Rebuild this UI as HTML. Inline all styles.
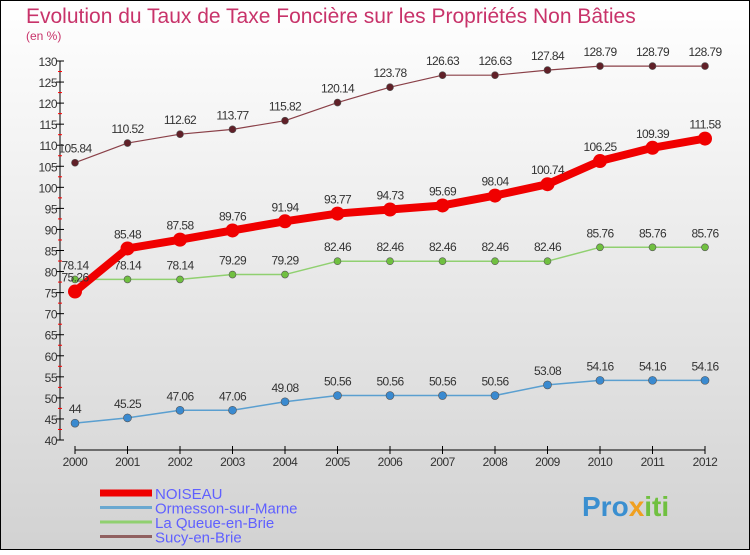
<!DOCTYPE html>
<html><head><meta charset="utf-8"><style>
body{margin:0;width:750px;height:550px;overflow:hidden;font-family:"Liberation Sans",sans-serif}
</style></head><body>
<svg width="750" height="550" xmlns="http://www.w3.org/2000/svg">
<defs><linearGradient id="bg" x1="0" y1="0" x2="0" y2="1"><stop offset="0" stop-color="#ffffff"/><stop offset="1" stop-color="#d2d2d2"/></linearGradient></defs>
<rect x="0.5" y="0.5" width="749" height="549" fill="url(#bg)" stroke="#000"/>
<text x="26" y="23" font-size="21" fill="#c8336a">Evolution du Taux de Taxe Foncière sur les Propriétés Non Bâties</text>
<text x="26" y="40" font-size="12" fill="#c8336a">(en %)</text>
<g id="axes"></g><g id="series"></g><g id="legend"></g>
<text x="582" y="516" font-size="28" font-weight="bold" fill="#3a8fd0">Pro<tspan fill="#f0a020">x</tspan><tspan fill="#70c040">iti</tspan></text>
</svg>
<script>
const years=[2000,2001,2002,2003,2004,2005,2006,2007,2008,2009,2010,2011,2012];
const yTicks=[40,45,50,55,60,65,70,75,80,85,90,95,100,105,110,115,120,125,130];
const noiseau=[75.26,85.48,87.58,89.76,91.94,93.77,94.73,95.69,98.04,100.74,106.25,109.39,111.58];
const ormesson=[44,45.25,47.06,47.06,49.08,50.56,50.56,50.56,50.56,53.08,54.16,54.16,54.16];
const queue=[78.14,78.14,78.14,79.29,79.29,82.46,82.46,82.46,82.46,82.46,85.76,85.76,85.76];
const sucy=[105.84,110.52,112.62,113.77,115.82,120.14,123.78,126.63,126.63,127.84,128.79,128.79,128.79];
const NS="http://www.w3.org/2000/svg";
const X=i=>75+i*52.5, Y=v=>440-(v-40)*(379/90);
function mk(t,a,p){const e=document.createElementNS(NS,t);for(const k in a)e.setAttribute(k,a[k]);p.appendChild(e);return e;}
const ax=document.getElementById('axes');
let l=mk('line',{x1:60,y1:Y(130),x2:60,y2:Y(40),stroke:'#000'},ax);


yTicks.forEach(v=>{mk('line',{x1:56,x2:64,y1:Y(v),y2:Y(v),stroke:'#000'},ax);
 if(v<130)mk('line',{x1:58,x2:62,y1:Y(v+2.5),y2:Y(v+2.5),stroke:'#f00'},ax);
 const t=mk('text',{x:57,y:Y(v)+5,'font-size':12,fill:'#333','text-anchor':'end','letter-spacing':'-0.5'},ax);t.textContent=v;
 
 });
l=mk('line',{x1:75,y1:450,x2:705,y2:450,stroke:'#000'},ax);


years.forEach((y,i)=>{mk('line',{x1:X(i),x2:X(i),y1:446,y2:454,stroke:'#000'},ax);
 const t=mk('text',{x:X(i),y:466,'font-size':12,fill:'#333','text-anchor':'middle','letter-spacing':'-0.5'},ax);t.textContent=y;
 
 });
const sg=document.getElementById('series');
function draw(vals,col,w,r,fill,name){
 const g=mk('g',{},sg);
 
 
 mk('polyline',{points:vals.map((v,i)=>X(i)+','+Y(v)).join(' '),fill:'none',stroke:col,'stroke-width':w,'stroke-linejoin':'round'},g);
 vals.forEach((v,i)=>{const c=mk('circle',{cx:X(i),cy:Y(v),r:r,fill:fill,stroke:'#555','stroke-width':r>5?0:0.6},g);
  
  
  const t=mk('text',{x:X(i),y:Y(v)-10,'font-size':12,fill:'#333','text-anchor':'middle','letter-spacing':'-0.6'},g);t.textContent=v;
  
  });
}
draw(ormesson,'#5a9fd0',1.5,4,'#3a8ad0','ormesson-series');
draw(queue,'#90d070',1.5,3.5,'#70c040','queue-series');
draw(sucy,'#8a4048',1.2,3.5,'#602028','sucy-series');
draw(noiseau,'#f00000',8,7,'#f00000','noiseau-series');
const lg=document.getElementById('legend');
const names=['NOISEAU','Ormesson-sur-Marne','La Queue-en-Brie','Sucy-en-Brie'];
const cols=['#f00000','#6aa8d0','#90d070','#906060'];const ws=[7,3,3,3];
names.forEach((n,i)=>{const y=493+i*14.5;
 const ln=mk('line',{x1:100,x2:152,y1:y,y2:y,stroke:cols[i],'stroke-width':ws[i]},lg);
 
 
 const t=mk('text',{x:155,y:y+6,'font-size':15,fill:'#6060ff'},lg);t.textContent=n;
 
 });
</script>
</body></html>
